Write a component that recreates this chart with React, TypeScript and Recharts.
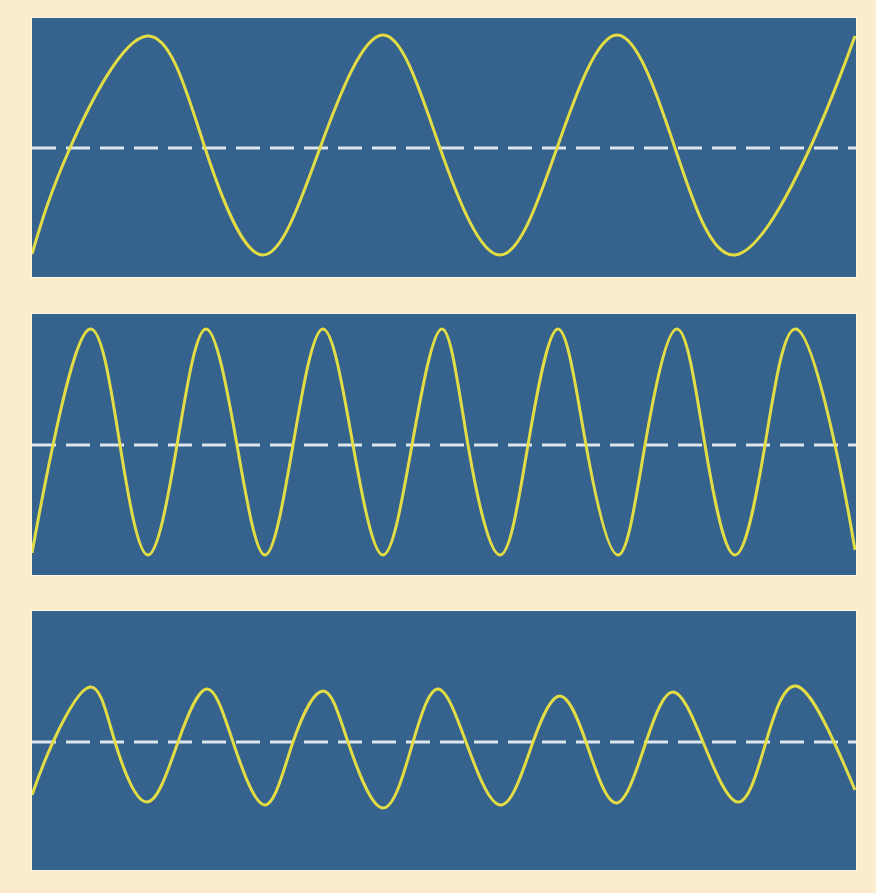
import React from "react";
import { LineChart, Line, XAxis, YAxis, ReferenceLine } from "recharts";

// Horizontal positions along each strip (0 = left edge, 824 = right edge)
const wave1X = [0, 38, 115, 173, 231, 288, 351, 408, 468, 525, 585, 643, 703, 778, 823];
const wave1Y = [-106, 0, 112, 0, -107, 0, 113, 0, -107, 0, 113, 0, -107, 0, 112];

const wave2X = [0, 21, 58, 88, 116, 145, 174, 205, 233, 261, 291, 321, 351, 380, 410, 436, 468, 496, 526, 554, 586, 613, 645, 673, 703, 733, 764, 803, 823];
const wave2Y = [-108, 0, 116, 0, -110, 0, 116, 0, -110, 0, 116, 0, -110, 0, 116, 0, -110, 0, 116, 0, -110, 0, 116, 0, -110, 0, 116, 0, -105];

const wave3X = [0, 21, 58, 83, 115, 146, 175, 201, 233, 261, 291, 316, 351, 381, 406, 434, 469, 501, 528, 554, 584, 614, 641, 671, 706, 734, 764, 802, 823];
const wave3Y = [-53, 0, 55, 0, -60, 0, 53, 0, -63, 0, 51, 0, -66, 0, 53, 0, -63, 0, 46, 0, -61, 0, 50, 0, -60, 0, 56, 0, -48];

const PANEL_W = 824;

const build = (xs: number[], ys: number[]) => xs.map((x, i) => ({ x, y: ys[i] }));

const panels = [
  { top: 18, height: 259, domain: [-129, 130], data: build(wave1X, wave1Y) },
  { top: 314, height: 261, domain: [-130, 131], data: build(wave2X, wave2Y) },
  { top: 611, height: 259, domain: [-128, 131], data: build(wave3X, wave3Y) },
];

const CREAM = "#FBECCD";
const BLUE = "#35638E";
const YELLOW = "#E2DC45";
const DASH = "#DDE6EE";

export default function App() {
  return (
    <div
      style={{
        position: "fixed",
        left: 0,
        top: 0,
        width: 876,
        height: 893,
        background: CREAM,
        overflow: "hidden",
      }}
    >
      {panels.map((p, i) => (
        <div
          key={i}
          style={{
            position: "absolute",
            left: 32,
            top: p.top,
            width: PANEL_W,
            height: p.height,
            background: BLUE,
            boxShadow: "0 0 0 1px #FFF6E2",
          }}
        >
          <LineChart
            width={PANEL_W}
            height={p.height}
            data={p.data}
            margin={{ top: 0, right: 0, bottom: 0, left: 0 }}
          >
            <XAxis type="number" dataKey="x" domain={[0, PANEL_W]} hide />
            <YAxis type="number" domain={p.domain} hide width={0} />
            <ReferenceLine
              y={0}
              stroke={DASH}
              strokeWidth={3}
              strokeDasharray="24 10"
              ifOverflow="extendDomain"
            />
            <Line
              type="natural"
              dataKey="y"
              stroke={YELLOW}
              strokeWidth={3}
              dot={false}
              isAnimationActive={false}
            />
          </LineChart>
        </div>
      ))}
    </div>
  );
}
